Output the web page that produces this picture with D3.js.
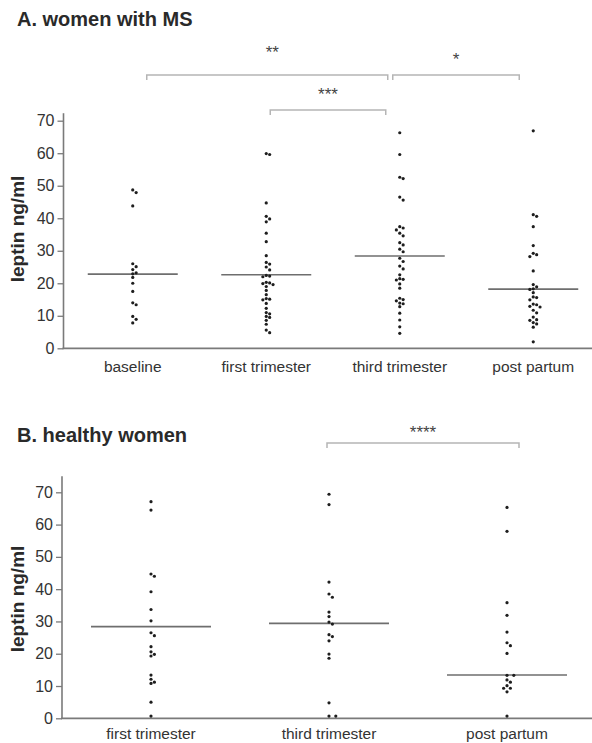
<!DOCTYPE html>
<html><head><meta charset="utf-8">
<script src="https://cdn.jsdelivr.net/npm/d3@7"></script>
<style>
html,body{margin:0;padding:0;background:#fff;}
svg{display:block;font-family:"Liberation Sans",Arial,sans-serif;}
</style></head>
<body><svg id="chart" width="592" height="743"></svg>
<script>
// ---------- DATA ----------
const catsA = ["baseline", "first trimester", "third trimester", "post partum"];
const catsB = ["first trimester", "third trimester", "post partum"];
const yTicks = [0, 10, 20, 30, 40, 50, 60, 70];

const msBaseline = [48.7, 47.9, 43.8, 26.0, 25.1, 24.2, 23.2, 22.9, 21.8, 20.0, 17.5, 14.0, 13.4, 9.8, 8.9, 7.8];
const msFirst = [59.6, 59.9, 44.7, 40.6, 39.8, 38.9, 35.4, 32.8, 28.5, 26.4, 25.9, 25.0, 24.1, 22.4, 22.2, 22.0,
  20.3, 20.1, 19.9, 19.6, 19.0, 17.8, 16.5, 15.3, 15.1, 14.9, 13.8, 12.3, 11.0, 10.6, 9.8, 9.5, 8.6, 7.4, 5.6, 4.8];
const msThird = [66.3, 59.6, 52.6, 52.2, 46.5, 45.6, 37.4, 37.0, 36.4, 35.4, 34.6, 32.5, 31.8, 30.5, 29.7, 27.7,
  26.7, 25.3, 24.4, 22.6, 21.4, 21.2, 21.0, 19.8, 18.5, 15.4, 15.0, 14.6, 13.9, 13.7, 12.8, 10.8, 8.7, 6.6, 4.6];
const msPost = [66.9, 41.1, 40.6, 37.4, 31.6, 29.2, 28.8, 28.2, 23.8, 19.6, 18.9, 18.3, 18.1, 17.1, 15.8, 15.6,
  14.9, 13.6, 13.4, 12.9, 12.7, 11.7, 10.9, 9.6, 8.8, 8.6, 7.9, 7.5, 6.5, 2.0];
const msMedians = [22.8, 22.6, 28.4, 18.2];

const hFirst = [67.1, 64.5, 44.7, 44.0, 39.2, 33.7, 30.2, 26.5, 25.6, 22.2, 20.6, 19.8, 19.3, 13.4, 12.1, 11.2, 10.8, 5.0, 0.7];
const hThird = [69.4, 66.2, 42.2, 38.5, 37.5, 32.9, 31.5, 29.8, 29.2, 25.9, 25.3, 24.0, 19.9, 18.6, 4.8, 0.7, 0.7];
const hPost = [65.3, 57.9, 35.8, 31.9, 26.7, 23.4, 22.5, 20.1, 13.3, 13.3, 11.9, 11.2, 10.1, 9.3, 9.3, 8.2, 0.7];
const hMedians = [28.4, 29.4, 13.4];

// significance comparisons: [fromCategory, toCategory, label]
const sigA = [
  ["baseline", "third trimester", "**"],
  ["third trimester", "post partum", "*"],
  ["first trimester", "third trimester", "***"]
];
const sigB = [
  ["third trimester", "post partum", "****"]
];

// ---------- DRAW ----------
const svg = d3.select("#chart");
const AXIS = "#7a7a7a", TXT = "#333", DOT = "#1e1e1e", MED = "#6e6e6e", BR = "#b5b5b5";

function panel(o) {
  const g = svg.append("g");
  const x = d3.scaleBand().domain(o.cats).range(o.xRange).padding(0);
  const y = d3.scaleLinear().domain([0, 70]).range(o.yRange);
  const cx = c => x(c) + x.bandwidth() / 2;

  // title
  g.append("text").attr("x", 17).attr("y", o.titleY).text(o.title)
    .attr("font-size", 20).attr("font-weight", "bold").attr("fill", "#2a2a2a");

  // y axis
  const ya = g.append("g").attr("transform", `translate(${o.axisX},0)`)
    .call(d3.axisLeft(y).tickValues(yTicks).tickSize(6).tickPadding(3));
  ya.select(".domain").remove();
  ya.selectAll(".tick line").attr("stroke", AXIS).attr("stroke-width", 1.3);
  ya.selectAll(".tick text").attr("fill", TXT).attr("font-size", 16)
    .attr("font-family", "Liberation Sans, Arial, sans-serif");
  g.append("line").attr("x1", o.axisX).attr("x2", o.axisX)
    .attr("y1", y(0)).attr("y2", y(o.yTop))
    .attr("stroke", AXIS).attr("stroke-width", 1.6);

  // x axis
  g.append("line").attr("x1", o.axisX - 1).attr("x2", 592)
    .attr("y1", y(0)).attr("y2", y(0))
    .attr("stroke", AXIS).attr("stroke-width", 1.8);
  g.selectAll("text.cat").data(o.cats).join("text").attr("class", "cat")
    .attr("x", d => cx(d)).attr("y", o.catY).attr("text-anchor", "middle")
    .attr("font-size", 15.5).attr("fill", TXT).text(d => d);

  // y title
  g.append("text").attr("transform", `translate(24,${o.yTitleC}) rotate(-90)`)
    .attr("text-anchor", "middle").attr("font-size", 19).attr("font-weight", "bold")
    .attr("fill", "#2a2a2a").text("leptin ng/ml");

  // medians
  g.selectAll("line.med").data(o.cats).join("line").attr("class", "med")
    .attr("x1", d => cx(d) - o.medHalf).attr("x2", d => cx(d) + o.medHalf)
    .attr("y1", (d, i) => y(o.medians[i])).attr("y2", (d, i) => y(o.medians[i]))
    .attr("stroke", MED).attr("stroke-width", 1.6);

  // dots (simple beeswarm layout)
  o.series.forEach((vals, i) => {
    const c = cx(o.cats[i]);
    const placed = [];
    const sep = 3.4;
    vals.slice().sort((a, b) => b - a).forEach(v => {
      const py = y(v);
      for (let k = 0; k < 20; k++) {
        const off = k === 0 ? 0 : (k % 2 ? 1 : -1) * Math.ceil(k / 2) * sep;
        const px = c + off;
        if (placed.every(p => Math.hypot(p.x - px, p.y - py) >= sep)) { placed.push({x: px, y: py}); break; }
      }
    });
    g.selectAll(null).data(placed).join("circle")
      .attr("cx", d => d.x).attr("cy", d => d.y).attr("r", 1.6).attr("fill", DOT);
  });

  // significance brackets
  o.sig.forEach((s, i) => {
    const b = o.brk[i];
    const x1 = cx(s[0]) + b.dl, x2 = cx(s[1]) + b.dr;
    g.append("path").attr("d", `M${x1},${b.y + 5}V${b.y}H${x2}V${b.y + 5}`)
      .attr("fill", "none").attr("stroke", BR).attr("stroke-width", 1.5);
    g.append("text").attr("x", (x1 + x2) / 2 + (b.tx || 0)).attr("y", b.ty)
      .attr("text-anchor", "middle").attr("font-size", 17).attr("fill", "#444").text(s[2]);
  });
}

panel({
  title: "A. women with MS", titleY: 26,
  cats: catsA, xRange: [66, 600], yRange: [348.3, 120.7], yTop: 72.3, axisX: 63.5,
  catY: 372, yTitleC: 229,
  medians: msMedians, medHalf: 45,
  series: [msBaseline, msFirst, msThird, msPost],
  sig: sigA,
  brk: [{dl: 14, dr: -12, y: 75, ty: 58, tx: 5}, {dl: -7, dr: -14, y: 75, ty: 65}, {dl: 4, dr: -14, y: 110, ty: 100}]
});

panel({
  title: "B. healthy women", titleY: 442,
  cats: catsB, xRange: [62, 596], yRange: [718.3, 492.3], yTop: 75, axisX: 62,
  catY: 739, yTitleC: 599,
  medians: hMedians, medHalf: 60,
  series: [hFirst, hThird, hPost],
  sig: sigB,
  brk: [{dl: -2, dr: 12, y: 443, ty: 438}]
});
</script></body></html>
